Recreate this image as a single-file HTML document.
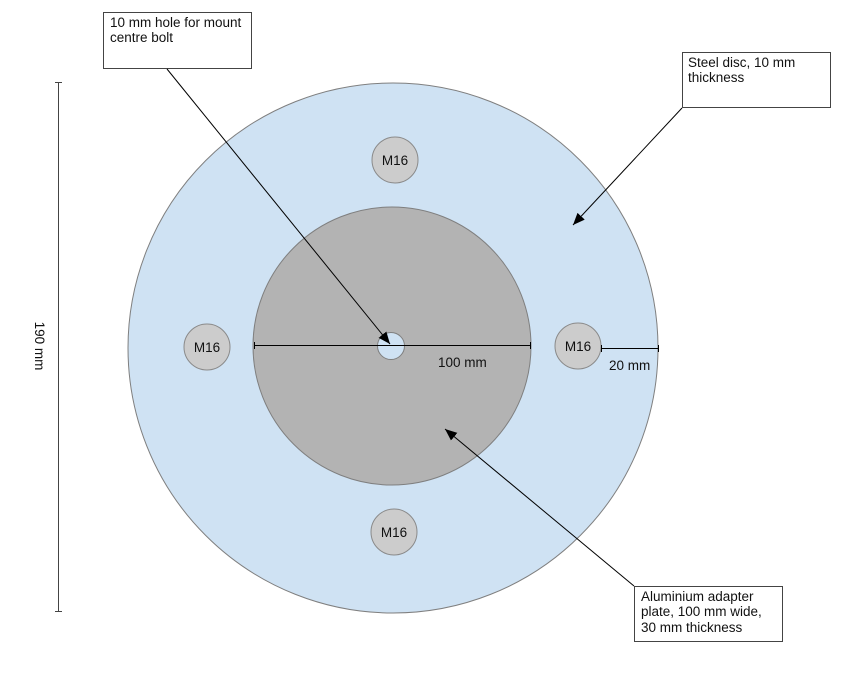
<!DOCTYPE html>
<html>
<head>
<meta charset="utf-8">
<style>
html,body{margin:0;padding:0;background:#fff;}
svg{display:block;}
text{font-family:"Liberation Sans",Arial,sans-serif;fill:#111;}
</style>
</head>
<body>
<svg width="858" height="674" viewBox="0 0 858 674" xmlns="http://www.w3.org/2000/svg">
  <defs>
    <marker id="ah" markerWidth="12" markerHeight="10" refX="12" refY="5" orient="auto" markerUnits="userSpaceOnUse">
      <path d="M0,0 L12,5 L0,10 Z" fill="#000"/>
    </marker>
  </defs>
  <rect width="858" height="674" fill="#fff"/>

  <!-- Big steel disc -->
  <circle cx="393" cy="348" r="265" fill="#cfe2f3" stroke="#7f7f7f" stroke-width="1"/>
  <!-- Aluminium plate -->
  <circle cx="392" cy="346" r="139" fill="#b3b3b3" stroke="#7f7f7f" stroke-width="1"/>
  <!-- Center hole -->
  <circle cx="391" cy="346" r="13.5" fill="#cfe2f3" stroke="#7f7f7f" stroke-width="1"/>

  <!-- M16 holes -->
  <circle cx="395" cy="160" r="23" fill="#cccccc" stroke="#8a8a8a" stroke-width="1"/>
  <text x="395" y="165" font-size="13.5" text-anchor="middle">M16</text>
  <circle cx="207" cy="347" r="23" fill="#cccccc" stroke="#8a8a8a" stroke-width="1"/>
  <text x="207" y="352" font-size="13.5" text-anchor="middle">M16</text>
  <circle cx="578" cy="346" r="23" fill="#cccccc" stroke="#8a8a8a" stroke-width="1"/>
  <text x="578" y="351" font-size="13.5" text-anchor="middle">M16</text>
  <circle cx="394" cy="532" r="23" fill="#cccccc" stroke="#8a8a8a" stroke-width="1"/>
  <text x="394" y="537" font-size="13.5" text-anchor="middle">M16</text>

  <!-- 100 mm dimension -->
  <line x1="254" y1="345.5" x2="531" y2="345.5" stroke="#000" stroke-width="1"/>
  <line x1="254.5" y1="342" x2="254.5" y2="349" stroke="#000" stroke-width="1"/>
  <line x1="530.5" y1="342" x2="530.5" y2="349" stroke="#000" stroke-width="1"/>
  <text x="438" y="367" font-size="13.5">100 mm</text>

  <!-- 20 mm dimension -->
  <line x1="601" y1="348.5" x2="659" y2="348.5" stroke="#000" stroke-width="1"/>
  <line x1="601.5" y1="345" x2="601.5" y2="352" stroke="#000" stroke-width="1"/>
  <line x1="658.5" y1="345" x2="658.5" y2="352" stroke="#000" stroke-width="1"/>
  <text x="609" y="370" font-size="13.5">20 mm</text>

  <!-- 190 mm vertical dimension -->
  <line x1="58.5" y1="82" x2="58.5" y2="612" stroke="#444" stroke-width="1"/>
  <line x1="55" y1="82.5" x2="62" y2="82.5" stroke="#444" stroke-width="1"/>
  <line x1="55" y1="611.5" x2="62" y2="611.5" stroke="#444" stroke-width="1"/>
  <text x="0" y="0" font-size="13.5" text-anchor="middle" transform="translate(35 346) rotate(90)">190 mm</text>

  <!-- Callout 1 -->
  <rect x="103.5" y="12.5" width="148" height="56" fill="#fff" stroke="#444" stroke-width="1"/>
  <text x="110" y="27" font-size="13.5">10 mm hole for mount</text>
  <text x="110" y="42" font-size="13.5">centre bolt</text>
  <line x1="167" y1="69" x2="390" y2="344" stroke="#000" stroke-width="1" marker-end="url(#ah)"/>

  <!-- Callout 2 -->
  <rect x="682.5" y="52.5" width="148" height="55" fill="#fff" stroke="#444" stroke-width="1"/>
  <text x="688" y="67" font-size="13.5">Steel disc, 10 mm</text>
  <text x="688" y="82" font-size="13.5">thickness</text>
  <line x1="682" y1="108" x2="573" y2="225" stroke="#000" stroke-width="1" marker-end="url(#ah)"/>

  <!-- Callout 3 -->
  <rect x="634.5" y="586.5" width="148" height="55" fill="#fff" stroke="#444" stroke-width="1"/>
  <text x="641" y="601" font-size="13.5">Aluminium adapter</text>
  <text x="641" y="616" font-size="13.5">plate, 100 mm wide,</text>
  <text x="641" y="632" font-size="13.5">30 mm thickness</text>
  <line x1="634" y1="586" x2="445" y2="429" stroke="#000" stroke-width="1" marker-end="url(#ah)"/>
</svg>
</body>
</html>
